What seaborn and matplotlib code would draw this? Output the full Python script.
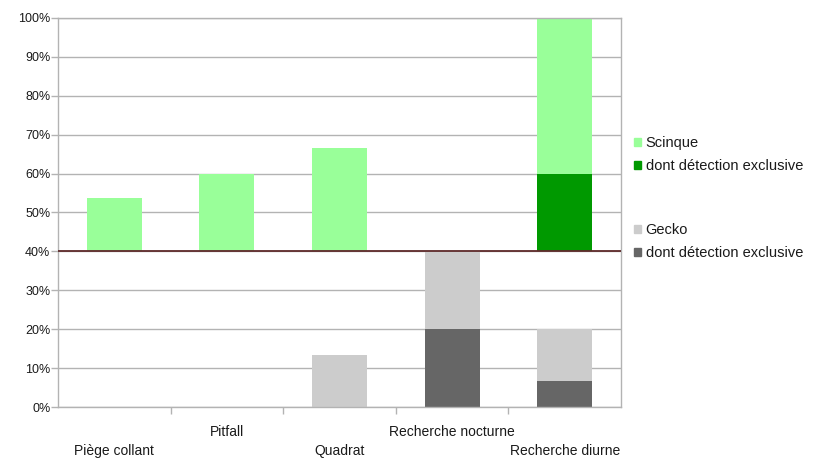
import numpy as np
import pandas as pd
import matplotlib
matplotlib.use("Agg")
import matplotlib.pyplot as plt
from matplotlib.patches import Patch
import seaborn as sns

# Sampling methods (x categories)
methods = ["Piège collant", "Pitfall", "Quadrat", "Recherche nocturne", "Recherche diurne"]

# Upper half of the chart: skinks, drawn from the 40 % baseline upward
scinque_base = 40
scinque_top = [53.7, 59.8, 66.7, 40.0, 100.0]
scinque_excl_top = [40.0, 40.0, 40.0, 40.0, 60.0]

# Lower half of the chart: geckos, drawn from 0 upward
gecko = [0.0, 0.0, 13.3, 40.0, 20.0]
gecko_excl = [0.0, 0.0, 0.0, 20.0, 6.7]

y_ticks = list(range(0, 101, 10))

df = pd.DataFrame({
    "method": methods,
    "scinque_h": np.array(scinque_top) - scinque_base,
    "scinque_excl_h": np.array(scinque_excl_top) - scinque_base,
    "gecko": gecko,
    "gecko_excl": gecko_excl,
})

sns.set_theme(style="white")
plt.rcParams["font.family"] = ["Liberation Sans", "DejaVu Sans"]

C_SC = "#99ff99"
C_SC_X = "#009900"
C_GK = "#cccccc"
C_GK_X = "#666666"
GRID = "#b3b3b3"
TXT = "#1a1a1a"

fig = plt.figure(figsize=(8.4, 4.69), dpi=100)
ax = fig.add_axes([58 / 840, 1 - 407 / 469, (621 - 58) / 840, (407 - 18) / 469])

bw = 0.49
common = dict(x="method", order=methods, width=bw, ax=ax, errorbar=None,
              linewidth=0, saturation=1, zorder=2)
sns.barplot(data=df, y="gecko", color=C_GK, **common)
sns.barplot(data=df, y="gecko_excl", color=C_GK_X, **common)
sns.barplot(data=df, y="scinque_h", color=C_SC, bottom=scinque_base, **common)
sns.barplot(data=df, y="scinque_excl_h", color=C_SC_X, bottom=scinque_base, **common)

ax.set_ylim(0, 100)
ax.set_xlim(-0.5, len(methods) - 0.5)
ax.set_yticks(y_ticks)
ax.set_yticklabels([f"{v}%" for v in y_ticks], fontsize=9, color=TXT)
ax.yaxis.grid(True, color=GRID, linewidth=1)
ax.set_axisbelow(True)
ax.axhline(scinque_base, color="#5e2a2a", linewidth=1.3, zorder=4)

# Category separators as x ticks, names staggered on two rows
ax.set_xticks(np.arange(0.5, len(methods) - 1, 1.0))
ax.set_xticklabels([])
ax.tick_params(axis="x", length=5, width=1, color=GRID, direction="out", bottom=True)
ax.tick_params(axis="y", length=5, width=1, color=GRID, direction="out", left=True, pad=0.5)
ax.set_xlabel("")
ax.set_ylabel("")
for i, name in enumerate(methods):
    yoff = -0.113 if i % 2 == 0 else -0.064
    ax.text(i, yoff, name, transform=ax.get_xaxis_transform(), ha="center",
            va="center", fontsize=10, color=TXT)

for s in ax.spines.values():
    s.set_color(GRID)
    s.set_linewidth(1)

leg_kw = dict(frameon=False, fontsize=10.5, handlelength=0.5, handleheight=0.5,
              handletextpad=0.3, labelspacing=0.6, borderpad=0, borderaxespad=0,
              loc="center left")
leg1 = fig.legend(handles=[Patch(color=C_SC), Patch(color=C_SC_X)],
                  labels=["Scinque", "dont détection exclusive"],
                  bbox_to_anchor=(634 / 840, 1 - 154.5 / 469), **leg_kw)
leg2 = fig.legend(handles=[Patch(color=C_GK), Patch(color=C_GK_X)],
                  labels=["Gecko", "dont détection exclusive"],
                  bbox_to_anchor=(634 / 840, 1 - 241.5 / 469), **leg_kw)
for lg in (leg1, leg2):
    for t in lg.get_texts():
        t.set_color(TXT)

fig.savefig("out.png", dpi=100, facecolor="white")
